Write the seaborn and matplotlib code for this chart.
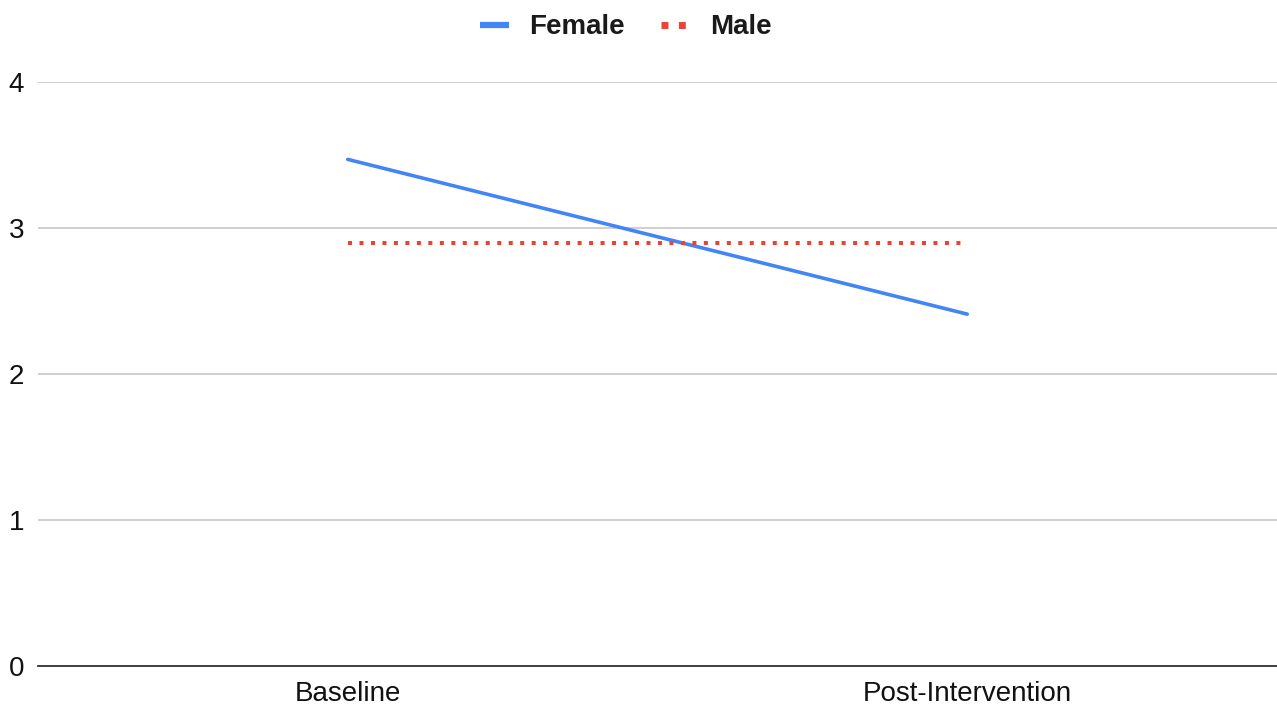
import pandas as pd
import matplotlib.pyplot as plt
import seaborn as sns
from matplotlib.lines import Line2D

# --- data ---
timepoints = ["Baseline", "Post-Intervention"]
female = [3.47, 2.41]
male = [2.90, 2.90]

df = pd.DataFrame({
    "timepoint": timepoints * 2,
    "score": female + male,
    "group": ["Female"] * 2 + ["Male"] * 2,
})

sns.set_style("white")
plt.rcParams["font.family"] = ["Liberation Sans", "DejaVu Sans"]

blue = "#4285F4"
red = "#EA4335"
dot = (0, (1, 1.85))

fig = plt.figure(figsize=(12.77, 7.07), dpi=100)
ax = fig.add_axes([38 / 1277, 1 - 666 / 707, 1 - 38 / 1277, (666 - 82) / 707])

sns.lineplot(data=df[df["group"] == "Female"], x="timepoint", y="score",
             color=blue, linewidth=2.6, ax=ax, legend=False)
sns.lineplot(data=df[df["group"] == "Male"], x="timepoint", y="score",
             color=red, linewidth=2.9, linestyle=dot, ax=ax, legend=False)

ax.set_xlim(-0.5, 1.5)
ax.set_ylim(0, 4)
ax.set_yticks([0, 1, 2, 3, 4])
ax.set_xlabel("")
ax.set_ylabel("")
ax.grid(axis="y", color="#cccccc", linewidth=1.3)
ax.set_axisbelow(True)
for s in ["top", "right", "left"]:
    ax.spines[s].set_visible(False)
ax.spines["bottom"].set_color("#333333")
ax.spines["bottom"].set_linewidth(1.3)
ax.spines["bottom"].set_zorder(3)
ax.tick_params(axis="both", length=0, labelsize=20, colors="#111111")
ax.tick_params(axis="y", pad=10)
ax.tick_params(axis="x", pad=11)

# legend at top
handles = [
    Line2D([], [], color=blue, linewidth=4.5, solid_capstyle="butt"),
    Line2D([], [], color=red, linewidth=5, linestyle=(0, (1, 1.5)), dash_capstyle="butt"),
]
fig.legend(handles, ["Female", "Male"], loc="upper center", bbox_to_anchor=(0.490, 1.015),
           ncol=2, frameon=False, handlelength=1.05, handletextpad=0.7, columnspacing=1.32,
           prop={"size": 20, "weight": "bold"}, labelcolor="#1a1a1a")

plt.savefig("out.png", dpi=100)
